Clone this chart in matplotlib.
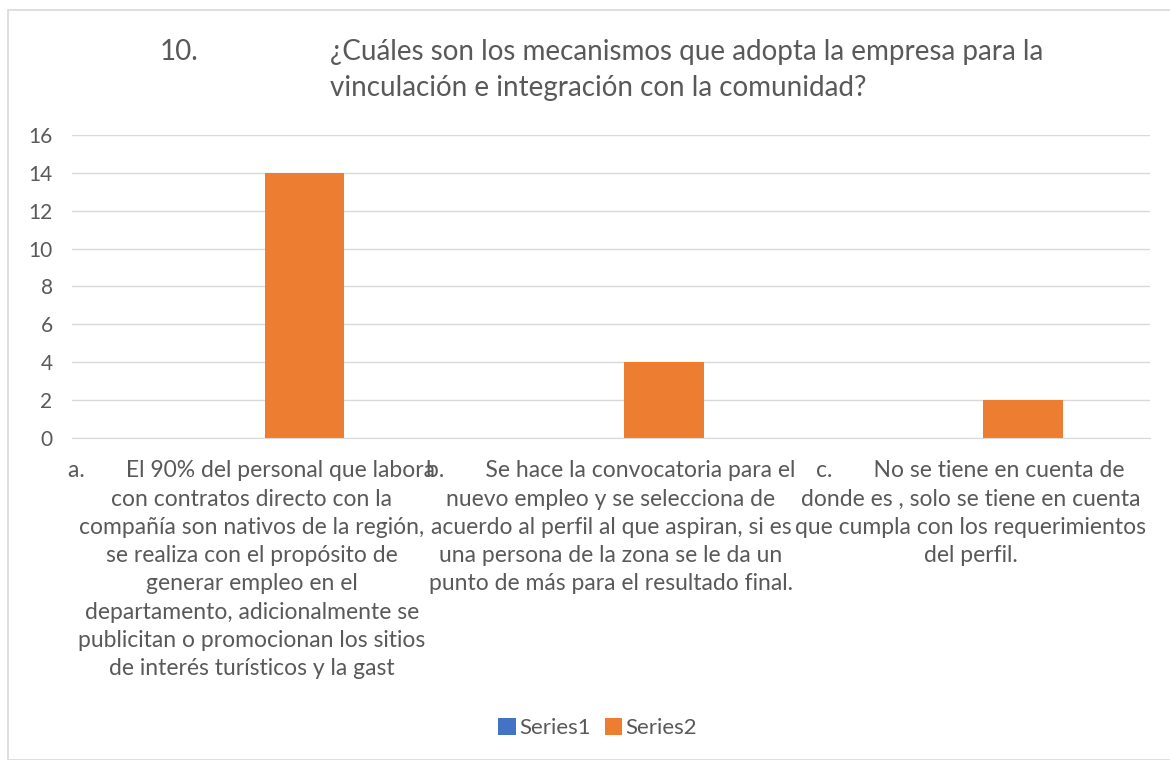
import matplotlib.pyplot as plt
import numpy as np
from matplotlib.patches import Rectangle

# Datos del grafico
categorias = [
    "a.       El 90% del personal que labora\ncon contratos directo con la\ncompañía son nativos de la región,\nse realiza con el propósito de\ngenerar empleo en el\ndepartamento, adicionalmente se\npublicitan o promocionan los sitios\nde interés turísticos y la gast",
    "b.       Se hace la convocatoria para el\nnuevo empleo y se selecciona de\nacuerdo al perfil al que aspiran, si es\nuna persona de la zona se le da un\npunto de más para el resultado final.",
    "c.       No se tiene en cuenta de\ndonde es , solo se tiene en cuenta\nque cumpla con los requerimientos\ndel perfil.",
]
series1 = [0, 0, 0]
series2 = [14, 4, 2]
nombres_series = ["Series1", "Series2"]
yticks = [0, 2, 4, 6, 8, 10, 12, 14, 16]

gris = "#595959"
plt.rcParams['font.family'] = ['Lato', 'DejaVu Sans']

fig = plt.figure(figsize=(11.7, 7.6), dpi=100)
ax = fig.add_axes([0.0615, 0.4237, 0.9215, 0.3987])

x = np.arange(len(categorias))
ancho = 0.222
ax.bar(x - 0.147, series1, width=ancho, color="#4472C4", label=nombres_series[0])
ax.bar(x + 0.147, series2, width=ancho, color="#ED7D31", label=nombres_series[1])

ax.set_xlim(-0.5, 2.5)
ax.set_ylim(0, 16)
ax.set_yticks(yticks)
ax.set_yticklabels([str(v) for v in yticks], fontsize=15, color=gris)
ax.yaxis.grid(True, color="#d9d9d9", linewidth=1)
ax.set_axisbelow(True)
ax.tick_params(axis="both", length=0)
ax.tick_params(axis="y", pad=14)
ax.set_xticks(x)
ax.set_xticklabels(categorias, fontsize=16.5, color=gris, linespacing=1.43, va="top")
ax.tick_params(axis="x", pad=16)
for lado in ["top", "left", "right"]:
    ax.spines[lado].set_visible(False)
ax.spines["bottom"].set_color("#d9d9d9")

# Titulo
fig.text(160 / 1170, 1 - 52 / 760, "10.", fontsize=20, color=gris, va="center")
fig.text(330 / 1170, 1 - 70 / 760,
         "¿Cuáles son los mecanismos que adopta la empresa para la\nvinculación e integración con la comunidad?",
         fontsize=20, color=gris, va="center", linespacing=1.45)

# Leyenda
ax.legend(loc="center", bbox_to_anchor=(0.511, 1 - 728 / 760), bbox_transform=fig.transFigure,
          ncol=2, frameon=False, fontsize=16, labelcolor=gris, handlelength=0.8,
          handleheight=0.8, columnspacing=0.6, handletextpad=0.15)

# Borde del grafico
fig.patches.append(Rectangle((8 / 1170, 0.0), 1.2, 1 - 10 / 760, transform=fig.transFigure,
                             fill=False, edgecolor="#d9d9d9", linewidth=1.2))

fig.savefig("out.png", dpi=100)
